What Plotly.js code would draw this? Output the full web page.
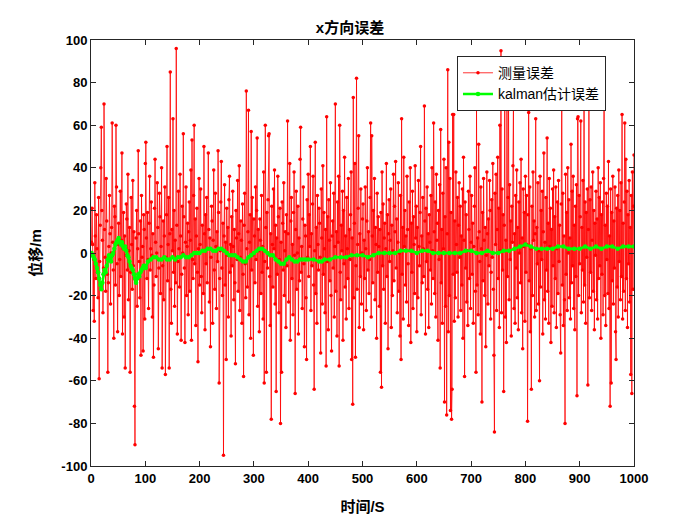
<!DOCTYPE html>
<html>
<head>
<meta charset="utf-8">
<script src="https://cdn.plot.ly/plotly-3.0.1.min.js"></script>
<style>html,body{margin:0;padding:0;background:#fff;}#chart{width:700px;height:525px;}</style>
</head>
<body>
<div id="chart"></div>
<script>
const measErr001 = [5,21,4,-27,-3,-32,33,8,-12,18, 2,-9,-21,26,-59,-4,13,40,59,20, 6,-28,-7,70,11,-2,-18,35,15,-10, -56,-14,3,27,9,-24,0,12,61,5, -8,-40,22,17,-15,60,31,-5,-37,4, 14,-20,-3,29,-11,6,47,-38,2,19, -30,8,-54,-1,23,16,-8,37,-22,1, 12,-56,-9,26,4,-17,34,-6,10,-72, -90,-13,7,20,-25,2,48,9,-4,-21, 15,-48,27,-2,3,-46,18,11,-31,42];
const measErr101 = [52,7,-12,19,-3,-26,14,36,-8,2, 24,-1,-30,9,-49,-15,21,44,5,-11, 0,33,12,-45,-7,28,17,-19,3,40, -54,-6,15,-22,8,31,-57,-2,18,50, -13,4,26,-54,9,85,-17,-33,11,1, 63,-9,20,-25,6,-14,96,13,-38,-4, 29,2,-16,37,8,-41,-10,22,0,56, 17,-7,-42,5,31,-20,3,14,-29,10, 24,-18,6,39,-41,53,-3,-12,27,60, -5,16,-34,8,21,-9,-51,2,35,-15];
const measErr201 = [4,30,-11,-28,13,1,-19,50,9,-36, 18,-5,26,-14,2,47,11,-23,7,-44, -2,22,15,-33,6,39,-8,-17,28,3, -26,10,-4,48,19,-61,-12,1,24,43, -7,-20,14,-95,8,32,-15,5,-50,21, -1,12,-30,25,36,-9,4,-39,17,-6, 29,3,-22,11,-14,-52,20,7,-3,34, -18,9,41,-27,-2,15,6,-33,23,-10, -58,13,28,-5,-21,76,2,-16,10,67, -29,5,18,-40,57,-8,26,-1,-48,16];
const measErr301 = [8,-14,31,-3,20,54,-25,11,1,-37, 16,6,-19,27,-9,3,-31,38,-61,-4, 60,12,-56,19,-7,25,55,56,-11,-34, 9,-78,22,4,-16,30,2,39,-24,13, -65,7,-10,36,17,-28,-3,21,-80,5, -56,24,14,-8,33,-20,1,10,-35,18, -6,62,9,-23,-2,42,-41,15,26,-12, 4,-29,19,38,-1,-66,11,29,-17,0, 22,-38,7,-13,44,59,-9,3,-26,16, 31,-5,-44,13,8,-21,-50,25,-2,37];
const measErr401 = [-11,18,3,50,-27,9,-6,23,36,-15, -64,1,52,-19,12,-33,27,4,-8,21, 14,-2,-47,30,7,-24,41,-10,19,2, -28,11,-53,64,-4,17,-36,25,6,-13, 33,-20,-46,8,15,-7,28,-30,3,70, -18,10,-39,24,5,36,-53,60,-9,-22, 13,1,29,-41,20,-5,45,-16,8,-31, 26,2,-12,35,-26,11,-3,18,38,-50, 7,-71,73,-21,14,42,-49,-6,82,-17, 4,21,55,-35,9,-11,30,-24,0,16];
const measErr501 = [23,-36,6,-12,31,2,-27,15,40,-8, 10,-19,-3,26,61,-30,55,8,-14,20, -1,35,-22,12,4,-40,28,-9,17,3, -25,11,-56,19,-63,38,-6,23,-17,7, 14,-33,2,42,-11,18,-45,9,25,-4, 6,30,-35,13,-20,1,37,-13,22,10, 43,-7,16,-28,5,33,-18,0,-39,27, -50,63,-10,12,-31,45,3,20,-15,8, -23,36,11,-5,-34,24,1,40,-42,14, -9,29,-26,17,4,-19,41,7,22,-37];
const measErr601 = [12,-21,34,3,-6,19,50,-29,8,-14, 26,2,-11,69,15,-38,21,-4,31,-17, 9,-35,18,5,-8,27,-24,40,1,-12, 61,10,-19,24,-30,37,6,14,-41,20, -3,32,-54,58,-14,11,-33,28,2,44, -70,17,-25,40,-76,9,86,-37,52,-20, 35,-74,19,-78,-64,65,-10,65,-32,15, -21,38,4,-9,26,-30,13,33,-2,22, -27,8,-15,30,-40,45,6,-58,24,-7, 18,-23,1,-34,29,11,-12,36,-26,5];
const measErr701 = [27,-10,14,-33,3,22,40,-18,-56,68, -15,7,-29,51,10,-4,-38,31,2,-70, 19,-13,35,6,-20,12,-44,-1,38,9, -24,16,-6,34,20,-31,-9,25,-2,42, -17,-48,-84,28,4,37,-27,11,45,-12, 21,-35,60,1,95,-28,30,-8,18,-65, 13,78,-30,6,-42,85,-11,26,70,-22, 32,-3,15,-39,22,5,41,68,-26,9, -33,27,-7,39,-21,12,-36,24,0,33, -14,44,-28,7,-45,30,3,19,-32,36];
const measErr801 = [-9,27,4,-79,18,66,-13,31,-37,2, -64,22,-20,38,6,15,-30,9,63,-27, 12,-5,33,-24,1,-60,36,-16,20,-3, 29,-38,10,47,-22,5,-31,26,-8,54, -18,14,-33,35,3,21,-42,11,-25,30, -6,39,-28,17,-12,31,-35,2,24,-19, 34,-4,13,-29,-47,23,85,-15,28,-34, 8,-22,-80,37,-10,19,-27,40,0,25, -21,7,-31,51,-14,29,-6,36,-26,13, -36,22,-11,32,-67,63,64,-20,27,-5];
const measErr901 = [17,62,-28,12,-8,34,-23,90,-15,24, -33,19,-2,30,-62,11,71,-21,25,-9, 31,-27,6,38,-18,20,-36,14,-1,29, -22,16,-31,40,-12,26,-6,33,-40,18, -10,24,-29,35,88,-20,13,-34,28,-3, 22,-19,43,-26,8,-72,30,-61,19,-13, 36,-24,15,-7,31,-37,-50,21,-16,27, -30,39,-4,20,-22,33,-11,65,-31,14, -18,24,61,-27,44,-12,29,-35,18,-5, 34,-23,12,-57,27,-66,38,-17,22,46];

// Kalman estimate error (green)
const kalmanTime = [1,3,5,7,9,11,13,15,17,19,21,23,25,27,29,31,33,35,37,39,41,43,45,47,49,51,53,55,57,59,61,63,65,67,69,71,73,75,77,79,81,83,85,87,89,91,93,95,97,99,
  101,105,110,115,120,125,130,135,140,145,150,155,160,165,170,175,180,185,190,195,200,205,210,215,220,225,230,235,240,245,250,255,260,265,270,275,280,285,290,295,300,
  305,310,315,320,325,330,335,340,345,350,355,360,365,370,375,380,385,390,395,400,410,420,425,430,440,450,460,470,480,490,500,510,520,530,540,550,560,570,580,590,600,
  610,620,630,640,650,660,670,680,690,700,710,720,730,740,750,760,770,780,790,800,810,820,830,840,850,860,870,880,890,900,910,920,930,940,950,960,970,980,990,1000];
const kalmanError = [0,-1,-2,-3,-5,-7,-9,-12,-15,-17,-14,-10,-8,-9,-6,-3,-1,-3,-4,-1,0,2,4,5,6,7,5,4,5,3,2,3,1,-1,-2,-4,-6,-7,-8,-10,-12,-14,-12,-10,-11,-9,-8,-7,-6,-6,
  -7,-4,-3,-2,-2,-3,-3,-2,-3,-3,-2,-3,-2,-2,-1,-2,-2,-1,0,0,0,1,1,2,2,1,1,2,2,1,0,-1,-1,-1,-2,-3,-4,-4,-2,-1,0,
  1,2,2,1,0,-1,-1,-3,-4,-5,-5,-3,-2,-3,-4,-4,-3,-3,-3,-3,-3,-4,-4,-3,-3,-2,-2,-2,-1,-1,-1,-2,-1,0,0,0,0,1,1,1,0,
  1,1,0,0,0,0,0,0,1,1,0,0,1,0,0,1,1,2,3,4,3,2,2,2,2,3,3,2,2,2,3,2,3,2,3,3,2,3,3,3];

const measErr = [].concat(measErr001, measErr101, measErr201, measErr301, measErr401,
                          measErr501, measErr601, measErr701, measErr801, measErr901);
const measTime = measErr.map((_, i) => i + 1);

const xTicks = [0,100,200,300,400,500,600,700,800,900,1000];
const yTicks = [-100,-80,-60,-40,-20,0,20,40,60,80,100];

const fontFam = '"Liberation Sans", Arial, "Noto Sans CJK SC", sans-serif';
const cjkFam = '"Liberation Sans", "Noto Sans CJK SC", sans-serif';

const traces = [
  {
    x: measTime, y: measErr, type: 'scatter', mode: 'lines+markers', name: '测量误差',
    line: {color: 'rgba(255,0,0,0.8)', width: 1},
    marker: {color: '#ff0000', size: 3.5}
  },
  {
    x: kalmanTime, y: kalmanError, type: 'scatter', mode: 'lines+markers', name: 'kalman估计误差',
    line: {color: '#00ff00', width: 2.5},
    marker: {color: '#00ff00', size: 4.5}
  }
];

const axisCommon = {
  showline: true, linecolor: '#262626', linewidth: 1, mirror: 'ticks',
  ticks: 'inside', ticklen: 5, tickcolor: '#262626', tickwidth: 1,
  showgrid: false, zeroline: false,
  tickfont: {family: fontFam, size: 13, color: '#000', weight: 'bold'}
};

const layout = {
  width: 700, height: 525,
  paper_bgcolor: '#ffffff', plot_bgcolor: '#ffffff',
  margin: {l: 91, r: 66, t: 40, b: 59},
  title: {text: 'x方向误差', font: {family: cjkFam, size: 15, color: '#000', weight: 'bold'}, x: 0.5, xanchor: 'center', y: 0.948, yanchor: 'middle'},
  xaxis: Object.assign({}, axisCommon, {
    range: [0, 1000], tickvals: xTicks, ticktext: xTicks.map(String),
    title: {text: '时间/S', font: {family: cjkFam, size: 15, color: '#000', weight: 'bold'}, standoff: 16}
  }),
  yaxis: Object.assign({}, axisCommon, {
    range: [-100, 100], tickvals: yTicks, ticktext: yTicks.map(String),
    title: {text: '位移/m', font: {family: cjkFam, size: 15, color: '#000', weight: 'bold'}, standoff: 16}
  }),
  showlegend: true,
  legend: {
    x: 0.674, y: 0.962, xanchor: 'left', yanchor: 'top',
    bgcolor: '#ffffff', bordercolor: '#262626', borderwidth: 1,
    font: {family: '"Liberation Sans", "Noto Sans CJK SC", sans-serif', size: 14, color: '#000'},
    tracegroupgap: 0, itemwidth: 30
  }
};

Plotly.newPlot('chart', traces, layout, {displayModeBar: false, staticPlot: true});
</script>
</body>
</html>
